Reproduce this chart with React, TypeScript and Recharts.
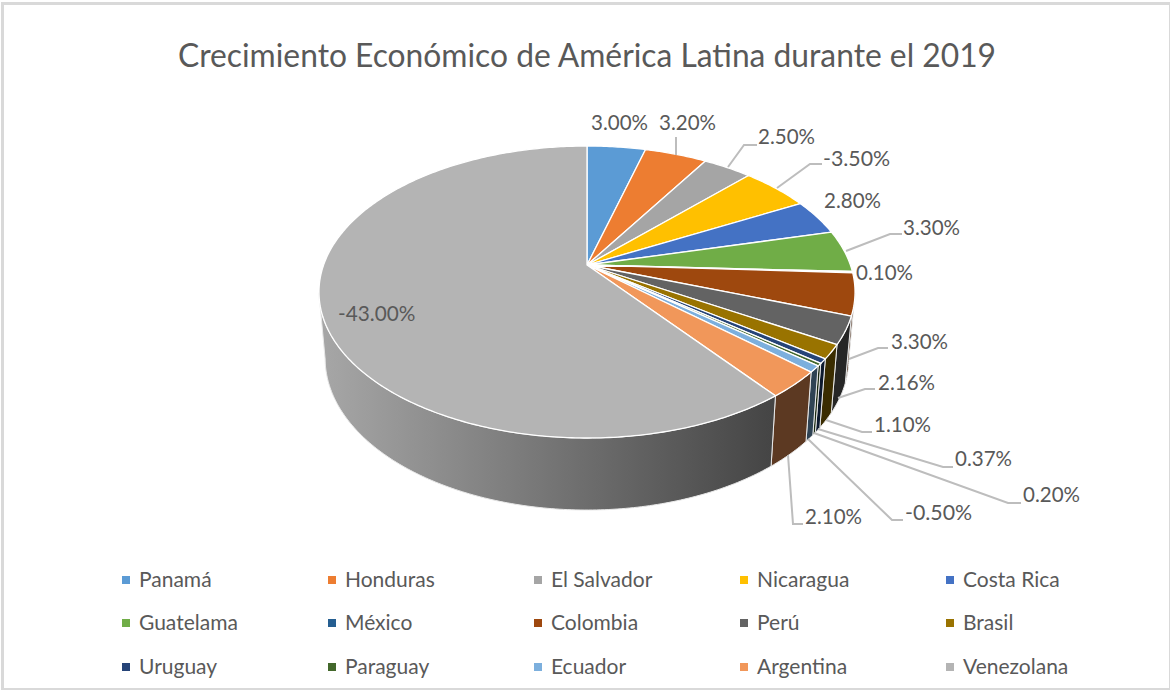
import React from "react";
import { PieChart, Pie, Legend } from "recharts";

const TITLE = "Crecimiento Económico de América Latina durante el 2019";
const countries = ["Panamá","Honduras","El Salvador","Nicaragua","Costa Rica","Guatelama","México","Colombia","Perú","Brasil","Uruguay","Paraguay","Ecuador","Argentina","Venezolana"];
const growth = [3.0,3.2,2.5,-3.5,2.8,3.3,0.1,3.3,2.16,1.1,0.37,0.2,-0.5,2.1,-43.0];
const colors = ["#5B9BD5","#ED7D31","#A5A5A5","#FFC000","#4472C4","#70AD47","#255E91","#9E480E","#636363","#997300","#264478","#43682B","#7CAFDD","#F1975A","#B4B4B4"];

// Where each data label sits, and its leader line (annotation layout only)
const labelX = [591,659,758,823,824,903,856,891,878,874,955,1023,905,805,338];
const labelY = [121,121,135,157,199,226,271,340,381,423,457,493,511,515,312];
const leaders: number[][][] = [
  [],
  [[676,155],[676,137]],
  [[728,167],[744,145],[757,145]],
  [[777,188],[810,164],[822,164]],
  [],
  [[846,251],[890,234],[902,234]],
  [],
  [[849,359],[878,348],[888,348]],
  [[838,398],[865,389],[875,389]],
  [[826,420],[862,432],[872,432]],
  [[818,429],[943,467],[953,467]],
  [[814,433],[1008,503],[1021,503]],
  [[808,439],[892,520],[903,520]],
  [[788,455],[793,524],[803,524]],
  [],
];

const tableData = countries.map((name, i) => ({
  name,
  value: Math.abs(growth[i]),
  growth: growth[i],
  fill: colors[i],
}));

// Perspective projection of the pie's disc
const K = 0.185;
const B = 141;
const A = 263.4;
function project(cx: number, cy: number, angleDeg: number) {
  const r = (angleDeg * Math.PI) / 180;
  const u = Math.cos(r);
  const v = -Math.sin(r);
  const w = 1 - K * v;
  return { x: cx + (A * u) / w, y: cy + (B * v) / w, v };
}
function lower(cx: number, p: { x: number; y: number }) {
  return { x: cx + (p.x - cx) * 0.977, y: p.y + 54.5 + 0.04 * p.y };
}
function arcPoints(cx: number, cy: number, start: number, end: number) {
  const n = Math.max(2, Math.ceil(Math.abs(end - start) / 0.75));
  const pts = [];
  for (let i = 0; i <= n; i++) pts.push(project(cx, cy, start + ((end - start) * i) / n));
  return pts;
}
function shade(hex: string, f: number) {
  const c = [1, 3, 5].map((i) => Math.round(parseInt(hex.slice(i, i + 2), 16) * f));
  return `rgb(${c[0]},${c[1]},${c[2]})`;
}

function TopSlice(props: any) {
  const { cx, cy, startAngle, endAngle, fill } = props;
  const pts = arcPoints(cx, cy, startAngle, endAngle);
  const d = `M${cx},${cy} ` + pts.map((p) => `L${p.x.toFixed(2)},${p.y.toFixed(2)}`).join(" ") + " Z";
  return <path d={d} fill={fill} stroke="#ffffff" strokeWidth={1.3} strokeLinejoin="round" />;
}

function WallSlice(props: any) {
  const { cx, cy, startAngle, endAngle, fill, index } = props;
  const pts = arcPoints(cx, cy, startAngle, endAngle).filter((p) => p.v >= K);
  if (pts.length < 2) return <g />;
  const bottom = pts.map((p) => lower(cx, p)).reverse();
  const d = "M" + [...pts, ...bottom].map((p) => `${p.x.toFixed(2)},${p.y.toFixed(2)}`).join(" L") + " Z";
  const id = `wall-${index}`;
  return (
    <g>
      <defs>
        <linearGradient id={id} gradientUnits="userSpaceOnUse" x1={320} y1={0} x2={775} y2={0}>
          <stop offset="0" stopColor={shade(fill, 0.93)} />
          <stop offset="1" stopColor={shade(fill, 0.38)} />
        </linearGradient>
      </defs>
      <path d={d} fill={`url(#${id})`} stroke="#e8e8e8" strokeWidth={1} strokeLinejoin="round" />
    </g>
  );
}

function DataLabel(props: any) {
  const { index } = props;
  const text = `${growth[index].toFixed(2)}%`;
  const pts = leaders[index];
  return (
    <g>
      {pts.length > 0 && (
        <polyline points={pts.map((p) => p.join(",")).join(" ")} fill="none" stroke="#bdbdbd" strokeWidth={2} />
      )}
      <text
        x={labelX[index]}
        y={labelY[index]}
        dominantBaseline="central"
        fontFamily="Lato, 'Open Sans', sans-serif"
        fontSize={21}
        fill="#595959"
        textLength={text.length * 10.2 + 6}
        lengthAdjust="spacingAndGlyphs"
      >
        {text}
      </text>
    </g>
  );
}

const legendColumns = [122, 328, 534, 740, 946];
const legendRows = [580, 623, 667];

function LegendGrid() {
  return (
    <div style={{ position: "relative", width: 1170, height: 690 }}>
      {tableData.map((e, i) => {
        const x = legendColumns[i % 5];
        const y = legendRows[Math.floor(i / 5)];
        return (
          <React.Fragment key={e.name}>
            <div style={{ position: "absolute", left: x, top: y - 4, width: 8, height: 8, background: e.fill }} />
            <div
              style={{
                position: "absolute",
                left: x + 17,
                top: y - 15,
                height: 28,
                lineHeight: "28px",
                fontFamily: "Lato, 'Open Sans', sans-serif",
                fontSize: 21,
                letterSpacing: 0,
                color: "#595959",
                whiteSpace: "nowrap",
              }}
            >
              {e.name}
            </div>
          </React.Fragment>
        );
      })}
    </div>
  );
}

export default function App() {
  return (
    <div style={{ position: "absolute", left: 0, top: 0, width: 1170, height: 690, background: "#fff", overflow: "hidden" }}>
      <div style={{ position: "absolute", left: 1, top: 2, width: 1165, height: 683, border: "3px solid #d9d9d9" }} />
      <PieChart width={1170} height={690} margin={{ top: 0, right: 0, bottom: 0, left: 0 }} style={{ position: "absolute", left: 0, top: 0 }}>
        <text
          x={178}
          y={54}
          dominantBaseline="central"
          fontFamily="Lato, 'Open Sans', sans-serif"
          fontSize={33}
          fill="#595959"
          textLength={818}
          lengthAdjust="spacingAndGlyphs"
        >
          {TITLE}
        </text>
        <Pie
          data={tableData}
          dataKey="value"
          nameKey="name"
          cx={587}
          cy={265}
          outerRadius={268}
          startAngle={90}
          endAngle={-270}
          legendType="none"
          shape={WallSlice}
          isAnimationActive={false}
          label={false}
          labelLine={false}
        />
        <Pie
          data={tableData}
          dataKey="value"
          nameKey="name"
          cx={587}
          cy={265}
          outerRadius={268}
          startAngle={90}
          endAngle={-270}
          shape={TopSlice}
          isAnimationActive={false}
          label={DataLabel}
          labelLine={false}
        />
        <Legend content={LegendGrid} wrapperStyle={{ left: 0, top: 0, bottom: "auto", width: 1170, height: 690, pointerEvents: "none" }} />
      </PieChart>
    </div>
  );
}
